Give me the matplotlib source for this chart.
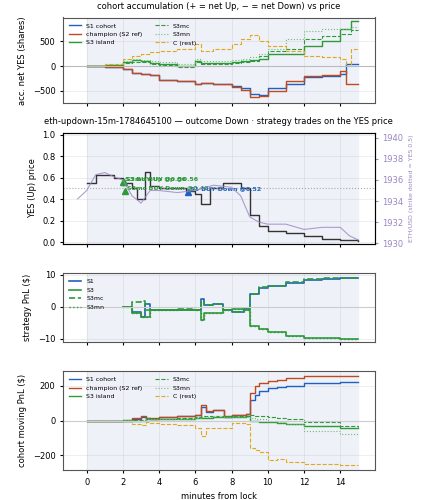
import numpy as np
import matplotlib.pyplot as plt

# ---- data ----
t_acc = [0, 1, 2, 2.5, 3, 3.5, 4, 5, 6, 6.3, 7, 8, 8.5, 9, 9.5, 10, 11, 12, 13, 14, 14.3, 14.6, 15]
acc_s1 = [0, -10, -50, -130, -150, -170, -280, -300, -350, -330, -350, -400, -450, -560, -580, -450, -350, -220, -200, -150, 50, 50, 50]
acc_champ = [0, -10, -50, -130, -150, -170, -280, -300, -350, -330, -350, -420, -480, -620, -600, -500, -300, -200, -180, -100, -350, -350, -350]
acc_s3 = [0, 30, 80, 120, 100, 60, 50, 0, 100, 60, 70, 80, 100, 120, 150, 250, 250, 400, 500, 750, 750, 900, 900]
acc_s3mc = [0, 25, 60, 90, 80, 40, 30, -20, 80, 40, 50, 60, 90, 100, 200, 300, 350, 550, 600, 650, 650, 720, 720]
acc_s3mn = [0, 35, 100, 150, 130, 100, 90, 40, 140, 100, 110, 120, 150, 180, 250, 350, 550, 700, 750, 750, 750, 780, 780]
acc_c = [0, 50, 150, 200, 250, 280, 300, 350, 450, 300, 350, 450, 550, 620, 500, 400, 300, 200, 180, 150, 0, 350, 350]

t_px = [0, 0.5, 1, 1.5, 2, 2.5, 2.8, 3.2, 3.5, 4, 5, 5.5, 6, 6.3, 6.8, 7.5, 8, 8.5, 9, 9.5, 10, 11, 12, 13, 14, 15]
yes_px = [0.55, 0.62, 0.62, 0.6, 0.55, 0.5, 0.4, 0.65, 0.52, 0.5, 0.5, 0.48, 0.45, 0.35, 0.5, 0.55, 0.55, 0.5, 0.25, 0.15, 0.1, 0.08, 0.06, 0.03, 0.02, 0.01]
t_eth = [-0.5, 0, 0.5, 1, 1.5, 2, 2.5, 3, 3.5, 4, 5, 6, 7, 8, 8.5, 9, 9.5, 10, 11, 12, 13, 14, 14.5, 15]
eth = [1934.2, 1935, 1936.5, 1936.7, 1936.3, 1936, 1934.5, 1933.8, 1935, 1935, 1934.8, 1935, 1935.5, 1935.3, 1934.5, 1932.5, 1932, 1931.8, 1931.8, 1931.3, 1931.5, 1931.5, 1930.7, 1930.3]
trades = [(2.0, 0.56, 'S3 BUY Up @0.56', '#2e9a3a'),
          (2.05, 0.56, 'S3mn BUY Up @0.56', '#2e9a3a'),
          (2.1, 0.48, 'S3mc BUY Down @0.48', '#2e9a3a'),
          (5.6, 0.47, 'S1 BUY Down @0.52', '#2060c0')]

t_pnl = [2, 2.5, 3, 3.2, 3.5, 5, 6, 6.3, 6.5, 7, 7.5, 8, 8.7, 9, 9.5, 10, 11, 12, 13, 14, 15]
pnl_s1 = [0, -1.5, -3, 1, -1, -1, -1, 2.5, 0.5, 1, -1, -1.5, -0.5, 4, 6, 6.5, 7.5, 8.5, 8.7, 9, 9]
pnl_s3 = [0, -2, -3, -3, -1, -1, -1, -4, -2, -2, -1, -0.5, -1, -6, -7, -8, -9, -9.7, -9.8, -10, -10]
pnl_s3mc = [0, 1.5, 2, -1, -1, -0.5, -1, 2, 0.5, 1, -1, -1.5, -0.5, 4, 6.2, 6.5, 7.8, 8.8, 9, 9.1, 9.1]
pnl_s3mn = [0, -2, -3, -3, -1, -0.5, -1, -4, -2, -2, -1, -0.5, -1, -6, -7, -8, -9, -9.7, -9.8, -10, -10]

t_mov = [0, 2, 2.5, 3, 3.3, 3.5, 4, 5, 6, 6.3, 6.6, 7, 7.6, 8, 8.8, 9, 9.3, 9.5, 10, 10.5, 11, 12, 14, 15]
mov_s1 = [0, 0, 10, 20, 10, 10, 20, 25, 30, 80, 50, 60, 20, 30, 40, 120, 150, 170, 190, 195, 200, 220, 225, 225]
mov_champ = [0, 0, 15, 25, 15, 15, 20, 25, 30, 90, 55, 60, 25, 35, 40, 160, 200, 220, 230, 235, 245, 255, 258, 260]
mov_s3 = [0, 5, 0, 0, 15, 10, 10, 12, 15, 15, 18, 20, 22, 22, 25, 0, -5, -8, -10, -15, -20, -30, -40, -45]
mov_s3mc = [0, 5, 5, 5, 15, 10, 12, 15, 20, 25, 25, 25, 25, 25, 28, 30, 25, 25, 20, 15, 10, -10, -30, -35]
mov_s3mn = [0, 5, 0, 0, 10, 8, 8, 10, 15, 20, 20, 25, 22, 20, 20, 15, 10, 10, 0, -10, -20, -60, -75, -85]
mov_c = [0, 0, -20, -25, -10, -15, -20, -25, -40, -90, -40, -40, -40, -15, -20, -160, -170, -180, -230, -220, -240, -250, -255, -255]

BLUE, RED, GREEN, GOLD, PURPLE = '#2060c0', '#c04a1f', '#2e9a3a', '#e0a81a', '#9b86c4'

plt.rcParams['font.size'] = 6
fig, axes = plt.subplots(4, 1, figsize=(4.21, 5.0), dpi=100, sharex=True,
                         gridspec_kw={'height_ratios': [1, 1.3, 0.8, 1.15]})

for ax in axes:
    ax.axvspan(0, 15, color='#eef1f8', zorder=0)
    ax.grid(True, alpha=0.3, linewidth=0.5)
    ax.tick_params(labelsize=6, length=2)
    for s in ax.spines.values():
        s.set_color('#555555')

ax = axes[0]
ax.step(t_acc, acc_s1, where='post', color=BLUE, lw=1, label='S1 cohort')
ax.step(t_acc, acc_champ, where='post', color=RED, lw=1, label='champion (S2 ref)')
ax.step(t_acc, acc_s3, where='post', color=GREEN, lw=1, label='S3 island')
ax.step(t_acc, acc_s3mc, where='post', color=GREEN, lw=0.8, ls='--', label='S3mc')
ax.step(t_acc, acc_s3mn, where='post', color='#6cc070', lw=0.8, ls=':', label='S3mn')
ax.step(t_acc, acc_c, where='post', color=GOLD, lw=0.8, ls='--', label='C (rest)')
ax.axhline(0, color='#bbbbbb', lw=0.8)
ax.set_ylim(-750, 980)
ax.set_ylabel('acc. net YES (shares)', fontsize=6)
ax.set_title('cohort accumulation (+ = net Up, − = net Down) vs price', fontsize=6)
ax.legend(loc='upper left', ncol=2, fontsize=4.5, frameon=False)

ax = axes[1]
ax.step(t_px, yes_px, where='post', color='#333333', lw=1)
ax.axhline(0.5, color='#aaaaaa', lw=0.8, ls=':')
for x, y, lab, c in trades:
    ax.plot(x, y, marker='^', color=c, ms=5, ls='none')
    ax.text(x + 0.1, y + 0.01, lab, color=c, fontsize=4.5, fontweight='bold')
ax.set_ylim(-0.02, 1.02)
ax.set_ylabel('YES (Up) price', fontsize=6)
ax.set_title('eth-updown-15m-1784645100 — outcome Down · strategy trades on the YES price', fontsize=6)
tw = ax.twinx()
tw.plot(t_eth, eth, color=PURPLE, lw=0.8, alpha=0.8)
tw.set_ylim(1929.9, 1940.5)
tw.set_ylabel('ETH/USD (strike dotted = YES 0.5)', color=PURPLE, fontsize=4.5)
tw.tick_params(colors=PURPLE, labelsize=6, length=2)

ax = axes[2]
ax.step(t_pnl, pnl_s1, where='post', color=BLUE, lw=1.2, label='S1')
ax.step(t_pnl, pnl_s3, where='post', color=GREEN, lw=1.2, label='S3')
ax.step(t_pnl, pnl_s3mc, where='post', color=GREEN, lw=1.2, ls='--', label='S3mc')
ax.step(t_pnl, pnl_s3mn, where='post', color=GREEN, lw=1, ls=':', label='S3mn')
ax.axhline(0, color='#cccccc', lw=0.8)
ax.set_ylim(-11, 10.5)
ax.set_ylabel('strategy PnL ($)', fontsize=6)
ax.legend(loc='upper left', fontsize=4.5, frameon=False)

ax = axes[3]
ax.step(t_mov, mov_s1, where='post', color=BLUE, lw=1, label='S1 cohort')
ax.step(t_mov, mov_champ, where='post', color=RED, lw=1, label='champion (S2 ref)')
ax.step(t_mov, mov_s3, where='post', color=GREEN, lw=1, label='S3 island')
ax.step(t_mov, mov_s3mc, where='post', color=GREEN, lw=0.8, ls='--', label='S3mc')
ax.step(t_mov, mov_s3mn, where='post', color='#6cc070', lw=0.8, ls=':', label='S3mn')
ax.step(t_mov, mov_c, where='post', color=GOLD, lw=0.8, ls='--', label='C (rest)')
ax.axhline(0, color='#cccccc', lw=0.8)
ax.set_ylim(-285, 285)
ax.set_ylabel('cohort moving PnL ($)', fontsize=6)
ax.set_xlabel('minutes from lock', fontsize=6)
ax.legend(loc='upper left', ncol=2, fontsize=4.5, frameon=False)
ax.set_xlim(-1.3, 15.9)
ax.set_xticks([0, 2, 4, 6, 8, 10, 12, 14])

fig.subplots_adjust(left=0.15, right=0.89, top=0.965, bottom=0.06, hspace=0.32)
fig.savefig('out.png', dpi=100)
